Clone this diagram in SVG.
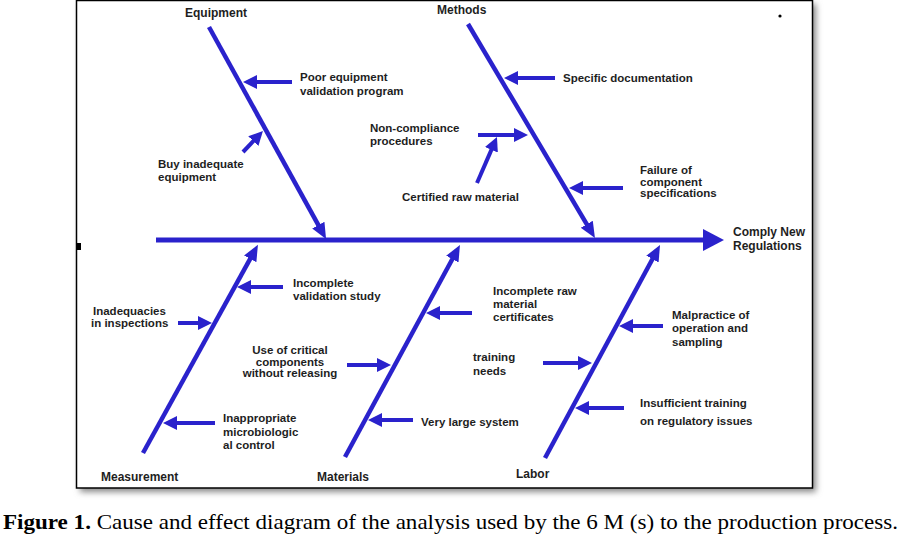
<svg xmlns="http://www.w3.org/2000/svg" width="901" height="536" viewBox="0 0 901 536">
<style>
.lbl{font-family:"Liberation Sans",Arial,sans-serif;font-weight:bold;font-size:11.5px;fill:#1e1e1e}
.hdr{font-family:"Liberation Sans",Arial,sans-serif;font-weight:bold;font-size:12px;fill:#1e1e1e}
.bone{stroke:#2a22cc;stroke-width:4.5;fill:none;stroke-linecap:butt}
.sub{stroke:#2a22cc;stroke-width:4;fill:none}
.cap{font-family:"Liberation Serif","Times New Roman",serif;font-size:21px;fill:#000}
</style>
<defs>
<marker id="head" markerUnits="userSpaceOnUse" markerWidth="18" markerHeight="18" viewBox="0 -9 18 18" refX="1" refY="0" orient="auto">
<path d="M0,-7 L16,0 L0,7 z" fill="#2a22cc"/>
</marker>
<marker id="small" markerUnits="userSpaceOnUse" markerWidth="16" markerHeight="16" viewBox="0 -8 16 16" refX="1" refY="0" orient="auto">
<path d="M0,-7 L14,0 L0,7 z" fill="#2a22cc"/>
</marker>
<filter id="blur" x="-5%" y="-5%" width="110%" height="110%"><feGaussianBlur stdDeviation="3"/></filter>
</defs>
<rect x="0" y="0" width="901" height="536" fill="#fff"/>
<rect x="80" y="4" width="736" height="488" fill="#888" filter="url(#blur)"/>
<rect x="76.5" y="0.5" width="736" height="487.5" fill="#fff" stroke="#000" stroke-width="1.5"/>
<rect x="77" y="243" width="4" height="7" fill="#000"/>
<circle cx="780" cy="16" r="1.6" fill="#000"/>
<g id="connectors">
<line x1="156" y1="240" x2="705" y2="240" stroke="#2a22cc" stroke-width="5"/>
<polygon points="703,229 724,240 703,251" fill="#2a22cc"/>
<line class="bone" x1="209" y1="27" x2="318.8" y2="225.9" marker-end="url(#head)"/>
<line class="bone" x1="468" y1="24" x2="587.3" y2="225.1" marker-end="url(#head)"/>
<line class="bone" x1="143" y1="453" x2="250.7" y2="257.9" marker-end="url(#head)"/>
<line class="bone" x1="345" y1="457" x2="452.8" y2="258.2" marker-end="url(#head)"/>
<line class="bone" x1="545" y1="458" x2="652.9" y2="258.2" marker-end="url(#head)"/>
<line class="sub" x1="292" y1="82" x2="256" y2="82" marker-end="url(#small)"/>
<line class="sub" x1="243" y1="152" x2="254" y2="140.4" marker-end="url(#small)"/>
<line class="sub" x1="555" y1="78" x2="517" y2="78" marker-end="url(#small)"/>
<line class="sub" x1="478" y1="135" x2="515" y2="135" marker-end="url(#small)"/>
<line class="sub" x1="477" y1="183" x2="491.8" y2="148.9" marker-end="url(#small)"/>
<line class="sub" x1="623" y1="188" x2="582" y2="188" marker-end="url(#small)"/>
<line class="sub" x1="283" y1="287" x2="250" y2="287" marker-end="url(#small)"/>
<line class="sub" x1="178" y1="323" x2="199" y2="323" marker-end="url(#small)"/>
<line class="sub" x1="215" y1="423" x2="176" y2="423" marker-end="url(#small)"/>
<line class="sub" x1="472" y1="313" x2="439" y2="313" marker-end="url(#small)"/>
<line class="sub" x1="347" y1="365" x2="378" y2="365" marker-end="url(#small)"/>
<line class="sub" x1="413" y1="420" x2="381" y2="420" marker-end="url(#small)"/>
<line class="sub" x1="663" y1="326" x2="632" y2="326" marker-end="url(#small)"/>
<line class="sub" x1="543" y1="363" x2="579" y2="363" marker-end="url(#small)"/>
<line class="sub" x1="624" y1="408" x2="588" y2="408" marker-end="url(#small)"/>
</g>
<g id="equipment"><text class="hdr" x="185" y="17">Equipment</text></g>
<g id="methods"><text class="hdr" x="437" y="14">Methods</text></g>
<g id="measurement"><text class="hdr" x="101" y="481">Measurement</text></g>
<g id="materials"><text class="hdr" x="317" y="481">Materials</text></g>
<g id="labor"><text class="hdr" x="516" y="478">Labor</text></g>
<g id="effect"><text class="hdr" x="733" y="236">Comply New</text><text class="hdr" x="733" y="250">Regulations</text></g>
<g id="poor-equipment"><text class="lbl" x="300" y="81">Poor equipment</text><text class="lbl" x="300" y="95">validation program</text></g>
<g id="buy-inadequate"><text class="lbl" x="158" y="168">Buy inadequate</text><text class="lbl" x="158" y="181">equipment</text></g>
<g id="specific-doc"><text class="lbl" x="563" y="82">Specific documentation</text></g>
<g id="non-compliance"><text class="lbl" x="370" y="132">Non-compliance</text><text class="lbl" x="370" y="145">procedures</text></g>
<g id="certified-raw"><text class="lbl" x="402" y="201">Certified raw material</text></g>
<g id="failure"><text class="lbl" x="640" y="174">Failure of</text><text class="lbl" x="640" y="186">component</text><text class="lbl" x="640" y="197">specifications</text></g>
<g id="incomplete-validation"><text class="lbl" x="293" y="287">Incomplete</text><text class="lbl" x="293" y="300">validation study</text></g>
<g id="inadequacies"><text class="lbl" x="93" y="315">Inadequacies</text><text class="lbl" x="91" y="327">in inspections</text></g>
<g id="inappropriate"><text class="lbl" x="223" y="422">Inappropriate</text><text class="lbl" x="223" y="436">microbiologic</text><text class="lbl" x="223" y="449">al control</text></g>
<g id="incomplete-raw"><text class="lbl" x="493" y="295">Incomplete raw</text><text class="lbl" x="493" y="308">material</text><text class="lbl" x="493" y="321">certificates</text></g>
<g id="use-critical"><text class="lbl" x="290" y="354" text-anchor="middle">Use of critical</text><text class="lbl" x="290" y="366" text-anchor="middle">components</text><text class="lbl" x="290" y="377" text-anchor="middle">without releasing</text></g>
<g id="very-large"><text class="lbl" x="421" y="426">Very large system</text></g>
<g id="malpractice"><text class="lbl" x="672" y="319">Malpractice of</text><text class="lbl" x="672" y="332">operation and</text><text class="lbl" x="672" y="346">sampling</text></g>
<g id="training-needs"><text class="lbl" x="473" y="361">training</text><text class="lbl" x="473" y="375">needs</text></g>
<g id="insufficient"><text class="lbl" x="640" y="407">Insufficient training</text><text class="lbl" x="640" y="425">on regulatory issues</text></g>
<text class="cap" x="3" y="529" textLength="895" lengthAdjust="spacingAndGlyphs"><tspan font-weight="bold">Figure 1.</tspan> Cause and effect diagram of the analysis used by the 6 M (s) to the production process.</text>
</svg>
